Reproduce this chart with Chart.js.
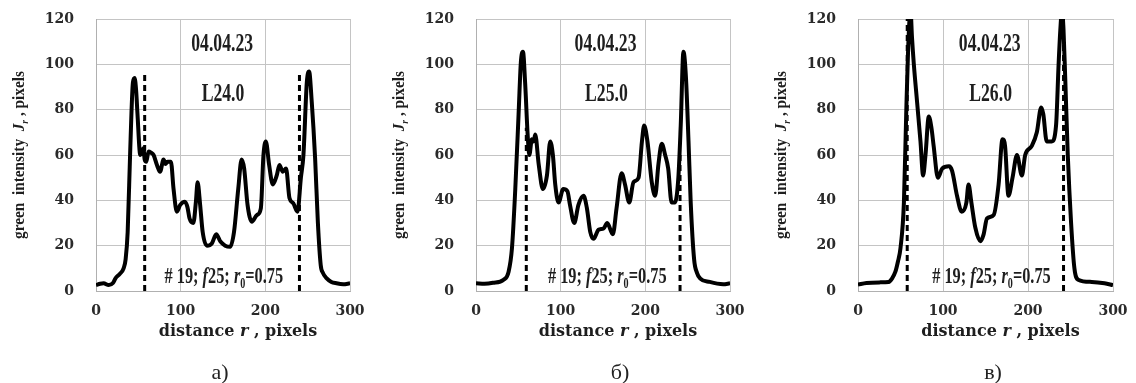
<!DOCTYPE html>
<html>
<head>
<meta charset="utf-8">
<script src="https://cdn.jsdelivr.net/npm/chart.js@4.4.1/dist/chart.umd.min.js"></script>
<style>
body { margin: 0; background: #fff; width: 1136px; height: 383px; position: relative; overflow: hidden; }
canvas { position: absolute; top: 0; }
.lab { position: absolute; top: 359px; font: 22px "Liberation Serif"; color: #222; transform: translateX(-50%); }
</style>
</head>
<body>
<canvas id="chartA" width="375" height="383" style="left:0px"></canvas>
<canvas id="chartB" width="375" height="383" style="left:380px"></canvas>
<canvas id="chartC" width="380" height="383" style="left:756px"></canvas>
<div class="lab" style="left:220px">а)</div>
<div class="lab" style="left:620px">б)</div>
<div class="lab" style="left:993px">в)</div>

<script>
// tick values
const xTicks = [0, 100, 200, 300];
const yTicks = [0, 20, 40, 60, 80, 100, 120];

// panel a) L24.0
const rA = [0, 5, 9, 15, 20, 23, 28, 32.6, 35, 37.4, 40.5, 43.6, 45.6, 47.5, 49, 52.3, 54, 56, 57.5, 59.4, 62, 65, 68, 72, 75.7, 79.8, 82, 84.5, 88.5, 91.6, 95.5, 99.5, 105, 108, 110.5, 115, 118, 120, 123, 126, 131, 136.8, 142, 147, 152.6, 158.5, 163, 168, 172, 175, 179, 184, 190, 194.7, 197.8, 200.6, 204.5, 208.8, 213.5, 216.7, 220.6, 224.5, 228.5, 233, 238, 242, 245, 249, 251.7, 254.8, 258.8, 262, 265.4, 268, 272.5, 278, 284, 292, 300];
const jA = [2.6, 3.2, 3.4, 2.6, 3.5, 5.6, 7.5, 10, 14, 26, 63, 92, 94, 88, 78, 60, 61, 63, 58, 57, 61.5, 61, 60, 55.6, 52.6, 58, 56, 57, 57, 45, 35, 38, 39.4, 37, 32, 30, 39.4, 48, 38, 26, 20, 21, 25, 21.8, 20, 19.5, 26, 45, 58, 54, 38, 30.6, 33.5, 36.5, 60, 66, 55.6, 47, 51, 55.6, 52.6, 54, 41, 38.7, 35, 50, 60, 92, 96.8, 83.5, 58.5, 30.6, 11.5, 8, 5.6, 4, 3.4, 3, 3.4];
const dashA = [57.5, 240.3];
const dashTopA = [96, 96];

// panel б) L25.0
const rB = [0, 10, 20, 32.6, 38.5, 42.5, 46.4, 50.3, 53, 55.5, 58, 61, 63, 66, 68, 70, 74, 79, 83.8, 87.7, 90.8, 93.6, 97.5, 103, 108, 111, 116, 121, 127, 131, 135, 138.8, 144.7, 150.6, 155, 161.6, 166, 172, 176, 181, 186, 192, 196, 198.6, 202.5, 207.6, 211.6, 215.5, 219.4, 223.4, 227, 231, 235, 239, 241.8, 245, 248, 251, 253.6, 257.6, 261, 264.6, 276, 292, 300];
const jB = [3.4, 3.2, 3.6, 5, 8.5, 19, 45, 78, 101, 105.6, 92, 69, 60, 67, 66, 69, 56, 45, 51, 66, 60, 47, 39, 45, 44, 38, 30, 38, 42, 36.5, 26, 23, 27, 27.6, 30, 25, 36.5, 52, 47, 39, 48, 50, 66, 73, 66, 48, 42, 56, 65, 60, 54, 39, 39, 50, 73, 105.6, 94, 66, 39, 14, 8, 5.6, 4, 3, 3.4];
const dashB = [59.4, 241];
const dashTopB = [72, 60];

// panel в) L26.0
const rC = [0, 10, 25, 36, 40, 44, 47, 50, 54, 56.7, 59, 61.8, 63.5, 65.7, 69.6, 73.5, 76.6, 79.4, 83.3, 86.4, 89, 94, 99, 107, 110.7, 116.5, 122, 127.5, 130, 133.4, 138, 144, 147.8, 151.7, 159.6, 165.4, 170, 173, 177, 181.8, 187, 192.8, 196.7, 204.5, 210.4, 215.5, 218, 222, 228, 233, 236, 238, 240, 241.8, 243.7, 246.8, 250.7, 254.6, 259, 275, 290, 300];
const jC = [2.8, 3.5, 3.8, 4, 5.5, 8.5, 13, 19, 39, 78, 107, 124, 112, 100, 83, 66, 51, 60, 77, 72, 64, 50, 54, 55, 53, 42, 35, 39, 47, 39, 28, 22, 25, 32, 33.5, 47, 67, 64, 42, 50, 60, 51, 60, 64, 70, 81, 78, 66, 66, 73, 100, 115, 124, 115, 95, 60, 30, 10, 5, 4, 3.4, 2.6];
const dashC = [57.9, 241.8];
const dashTopC = [120, 120];

const SERIF = '"Liberation Serif", "Times New Roman", serif';
const DJV = '"DejaVu Serif", serif';

function fontOf(run, size, family) {
    const s = run.sub ? size * 0.62 : size;
    return (run.i ? 'italic ' : '') + 'bold ' + s + 'px ' + family;
}

function drawRuns(ctx, item, cx, cy) {
    ctx.save();
    ctx.translate(cx, cy);
    if (item.rot) ctx.rotate(item.rot);
    ctx.scale(item.sx || 1, 1);
    ctx.fillStyle = '#1e1e1e';
    ctx.textBaseline = 'middle';
    ctx.textAlign = 'left';
    let total = 0;
    item.runs.forEach(r => {
        ctx.font = fontOf(r, item.size, item.family);
        total += ctx.measureText(r.t).width;
    });
    let x = -total / 2;
    item.runs.forEach(r => {
        ctx.font = fontOf(r, item.size, item.family);
        ctx.fillText(r.t, x, r.sub ? item.size * 0.3 : 0);
        x += ctx.measureText(r.t).width;
    });
    ctx.restore();
}

function textPlugin(items) {
    return {
        id: 'richText',
        afterDraw(chart) {
            const a = chart.chartArea;
            const xs = chart.scales.x, ys = chart.scales.y;
            items.forEach(it => {
                let px, py;
                if (it.where === 'ytitle') {
                    px = a.left - 76; py = (a.top + a.bottom) / 2;
                } else if (it.where === 'xtitle') {
                    px = (a.left + a.right) / 2 + 15; py = 332;
                } else {
                    px = xs.getPixelForValue(it.x); py = ys.getPixelForValue(it.y);
                }
                drawRuns(chart.ctx, it, px, py);
            });
        }
    };
}

function labels(name, cx) {
    return [
        { where: 'ytitle', rot: -Math.PI / 2, size: 17, sx: 0.9, family: SERIF,
          runs: [{t: 'green  intensity  '}, {t: 'J', i: 1}, {t: 'r', i: 1, sub: 1}, {t: ' , pixels'}] },
        { where: 'xtitle', size: 16, family: DJV,
          runs: [{t: 'distance '}, {t: 'r', i: 1}, {t: ' , pixels'}] },
        { x: cx, y: 108.8, size: 26, sx: 0.68, family: SERIF, runs: [{t: '04.04.23'}] },
        { x: cx + 1, y: 87, size: 26, sx: 0.68, family: SERIF, runs: [{t: name}] },
        { x: cx + 2, y: 6.3, size: 24, sx: 0.68, family: SERIF,
          runs: [{t: '# 19; '}, {t: 'f', i: 1}, {t: '25; '}, {t: 'r', i: 1}, {t: '0', sub: 1}, {t: '=0.75'}] }
    ];
}

function makeChart(id, rs, js, dashes, dashTops, leftW, padRight, name, cx) {
    const pts = rs.map((r, i) => ({x: r, y: js[i]}));
    const datasets = [{
        data: pts,
        borderColor: '#000',
        borderWidth: 4,
        pointRadius: 0,
        cubicInterpolationMode: 'monotone'
    }];
    dashes.forEach((d, i) => {
        datasets.push({
            data: [{x: d, y: 0}, {x: d, y: dashTops[i]}],
            borderColor: '#000',
            borderWidth: 3,
            borderDash: [6, 4],
            pointRadius: 0
        });
    });
    const tickFont = { family: DJV, size: 14, weight: 'bold' };
    new Chart(document.getElementById(id), {
        type: 'line',
        data: { datasets: datasets },
        options: {
            responsive: false,
            animation: false,
            layout: { padding: { left: 0, right: padRight, top: 19, bottom: 42 } },
            plugins: { legend: { display: false }, tooltip: { enabled: false } },
            scales: {
                x: {
                    type: 'linear', min: 0, max: 300,
                    afterBuildTicks: s => { s.ticks = xTicks.map(v => ({value: v})); },
                    afterFit: s => { s.height = 50; s.paddingLeft = 0; s.paddingRight = 0; },
                    grid: { color: '#c4c4c4', drawTicks: false },
                    border: { color: '#b0b0b0' },
                    ticks: { font: tickFont, color: '#2a2a2a', padding: 12, maxRotation: 0 }
                },
                y: {
                    min: 0, max: 120,
                    afterBuildTicks: s => { s.ticks = yTicks.map(v => ({value: v})); },
                    afterFit: s => { s.width = leftW; s.paddingTop = 0; s.paddingBottom = 0; },
                    grid: { color: '#c4c4c4', drawTicks: false },
                    border: { color: '#b0b0b0' },
                    ticks: { font: tickFont, color: '#2a2a2a', padding: 22 }
                }
            }
        },
        plugins: [textPlugin(labels(name, cx))]
    });
}

makeChart('chartA', rA, jA, dashA, dashTopA, 96, 25, 'L24.0', 149);
makeChart('chartB', rB, jB, dashB, dashTopB, 96, 25, 'L25.0', 153);
makeChart('chartC', rC, jC, dashC, dashTopC, 102, 23, 'L26.0', 155);
</script>
</body>
</html>
